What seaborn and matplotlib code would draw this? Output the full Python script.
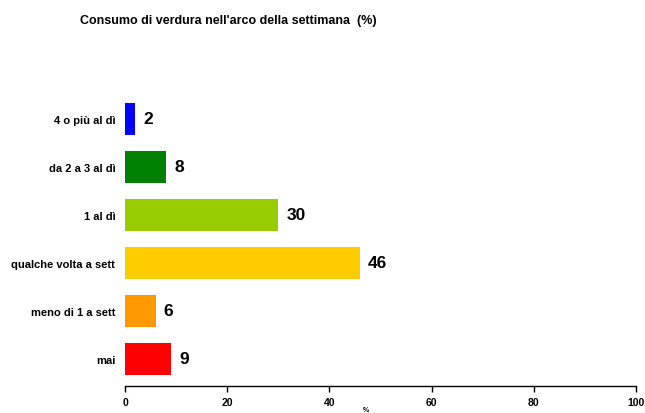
import matplotlib
matplotlib.use("Agg")
import matplotlib.pyplot as plt
import seaborn as sns
import pandas as pd

# dati
categorie = ["4 o più al dì", "da 2 a 3 al dì", "1 al dì",
             "qualche volta a sett", "meno di 1 a sett", "mai"]
valori = [2, 8, 30, 46, 6, 9]
colori = ["#0000ff", "#008000", "#99cc00", "#ffcc00", "#ff9900", "#ff0000"]
x_ticks = [0, 20, 40, 60, 80, 100]

df = pd.DataFrame({"categoria": categorie, "valore": valori})

sns.set_theme(style="white")
plt.rcParams["font.family"] = ["Liberation Sans", "DejaVu Sans"]
plt.rcParams["text.color"] = "black"
plt.rcParams["axes.labelcolor"] = "black"
plt.rcParams["xtick.color"] = "black"
plt.rcParams["ytick.color"] = "black"

fig = plt.figure(figsize=(6.45, 4.14), dpi=100)
ax = fig.add_axes([125 / 645, 1 - 387 / 414, (636 - 125) / 645, (387 - 93) / 414])

sns.barplot(data=df, x="valore", y="categoria", hue="categoria",
            palette=colori, legend=False, width=0.65, ax=ax,
            saturation=1, linewidth=0)

for i, v in enumerate(valori):
    ax.text(v + 1.6, i, str(v), va="center", ha="left",
            fontsize=12.5, fontweight="bold", color="black")

ax.set_xlim(0, 100)
ax.set_ylim(len(categorie) - 1 + 0.5625, -0.5625)
ax.set_xticks(x_ticks)
ax.set_xticklabels([str(t) for t in x_ticks], fontsize=7.5, fontweight="bold")
ax.tick_params(axis="x", direction="out", length=4, width=1, color="black", pad=4, bottom=True)
ax.tick_params(axis="y", length=0, pad=7)
for lab in ax.get_yticklabels():
    lab.set_fontsize(8)
    lab.set_fontweight("bold")
ax.set_ylabel("")
ax.set_xlabel("%", fontsize=5, fontweight="bold")
ax.xaxis.set_label_coords((366 - 125) / 511, -20 / 294)
for s in ["top", "right", "left"]:
    ax.spines[s].set_visible(False)
ax.spines["bottom"].set_color("black")
ax.spines["bottom"].set_linewidth(1)

fig.text(80 / 645, 1 - 21 / 414, "Consumo di verdura nell'arco della settimana  (%)",
         fontsize=9, fontweight="bold", ha="left", va="center", color="black")

fig.savefig("out.png", dpi=100)
